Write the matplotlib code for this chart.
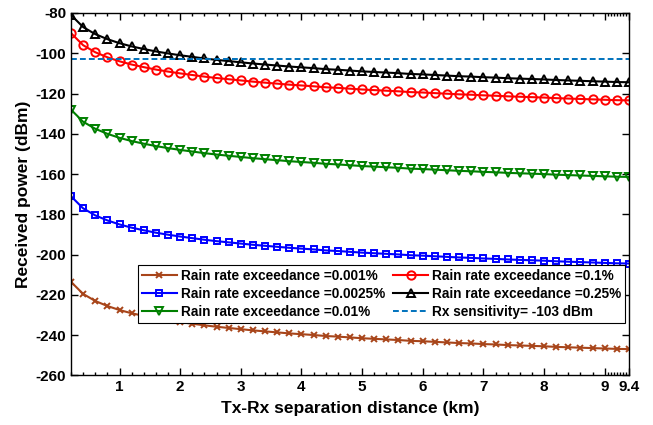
import matplotlib
matplotlib.use("Agg")
import matplotlib.pyplot as plt
from matplotlib.ticker import FixedLocator

plt.rcParams["font.family"] = ["Liberation Sans", "DejaVu Sans"]
plt.rcParams["font.weight"] = "bold"
plt.rcParams["axes.unicode_minus"] = False

# Tx-Rx distance (km)
dist = [0.2, 0.4, 0.6, 0.8, 1.0, 1.2, 1.4, 1.6, 1.8, 2.0, 2.2, 2.4, 2.6, 2.8, 3.0, 3.2,
        3.4, 3.6, 3.8, 4.0, 4.2, 4.4, 4.6, 4.8, 5.0, 5.2, 5.4, 5.6, 5.8, 6.0, 6.2, 6.4,
        6.6, 6.8, 7.0, 7.2, 7.4, 7.6, 7.8, 8.0, 8.2, 8.4, 8.6, 8.8, 9.0, 9.2, 9.4]

# received power (dBm) per rain rate exceedance
p_0001 = [-213.5, -219.5, -223.0, -225.5, -227.5, -229.1, -230.4, -231.6, -232.6, -233.5,
          -234.3, -235.1, -235.8, -236.4, -237.0, -237.6, -238.1, -238.6, -239.1, -239.5,
          -239.9, -240.4, -240.7, -241.1, -241.5, -241.8, -242.1, -242.4, -242.8, -243.0,
          -243.3, -243.6, -243.9, -244.1, -244.4, -244.6, -244.9, -245.1, -245.3, -245.5,
          -245.8, -246.0, -246.2, -246.4, -246.6, -246.8, -246.9]
p_00025 = [-171.0, -177.0, -180.5, -183.0, -185.0, -186.6, -187.9, -189.1, -190.1, -191.0,
           -191.8, -192.6, -193.3, -193.9, -194.5, -195.1, -195.6, -196.1, -196.6, -197.0,
           -197.4, -197.9, -198.2, -198.6, -199.0, -199.3, -199.6, -199.9, -200.3, -200.5,
           -200.8, -201.1, -201.4, -201.6, -201.9, -202.1, -202.4, -202.6, -202.8, -203.0,
           -203.3, -203.5, -203.7, -203.9, -204.1, -204.3, -204.4]
p_001 = [-128.0, -134.0, -137.5, -140.0, -142.0, -143.6, -144.9, -146.1, -147.1, -148.0,
         -148.8, -149.6, -150.3, -150.9, -151.5, -152.1, -152.6, -153.1, -153.6, -154.0,
         -154.4, -154.9, -155.2, -155.6, -156.0, -156.3, -156.6, -156.9, -157.3, -157.5,
         -157.8, -158.1, -158.4, -158.6, -158.9, -159.1, -159.4, -159.6, -159.8, -160.0,
         -160.3, -160.5, -160.7, -160.9, -161.1, -161.3, -161.4]
p_01 = [-90.0, -96.0, -99.5, -102.0, -104.0, -105.6, -106.9, -108.1, -109.1, -110.0,
        -110.8, -111.6, -112.3, -112.9, -113.5, -114.1, -114.6, -115.1, -115.6, -116.0,
        -116.4, -116.9, -117.2, -117.6, -118.0, -118.3, -118.6, -118.9, -119.3, -119.5,
        -119.8, -120.1, -120.4, -120.6, -120.9, -121.1, -121.4, -121.6, -121.8, -122.0,
        -122.3, -122.5, -122.7, -122.9, -123.1, -123.3, -123.4]
p_025 = [-81.0, -87.0, -90.5, -93.0, -95.0, -96.6, -97.9, -99.1, -100.1, -101.0,
         -101.8, -102.6, -103.3, -103.9, -104.5, -105.1, -105.6, -106.1, -106.6, -107.0,
         -107.4, -107.9, -108.2, -108.6, -109.0, -109.3, -109.6, -109.9, -110.3, -110.5,
         -110.8, -111.1, -111.4, -111.6, -111.9, -112.1, -112.4, -112.6, -112.8, -113.0,
         -113.3, -113.5, -113.7, -113.9, -114.1, -114.3, -114.4]
rx_sens = -103

x_major = [1, 2, 3, 4, 5, 6, 7, 8, 9, 9.4]
x_labels = ["1", "2", "3", "4", "5", "6", "7", "8", "9", "9.4"]
x_minor = [0.2, 0.4, 0.6, 0.8, 1.2, 1.4, 1.6, 1.8, 2.2, 2.4, 2.6, 2.8, 3.2, 3.4, 3.6, 3.8,
           4.2, 4.4, 4.6, 4.8, 5.2, 5.4, 5.6, 5.8, 6.2, 6.4, 6.6, 6.8, 7.2, 7.4, 7.6, 7.8,
           8.2, 8.4, 8.6, 8.8, 9.05, 9.1, 9.15, 9.2, 9.25, 9.3, 9.35]
y_ticks = [-260, -240, -220, -200, -180, -160, -140, -120, -100, -80]

fig = plt.figure(figsize=(6.53, 4.25), dpi=100)
ax = fig.add_axes([0.1087, 0.1165, 0.8545, 0.853])

kw = dict(lw=1.5, mew=1.4, mfc="none")
ax.plot(dist, p_0001, color="#A8451A", marker="x", ms=4, label="Rain rate exceedance =0.001%", **kw)
ax.plot(dist, p_00025, color="#0000FF", marker="s", ms=4.5, label="Rain rate exceedance =0.0025%", **kw)
ax.plot(dist, p_001, color="#008000", marker="v", ms=6, label="Rain rate exceedance =0.01%", **kw)
ax.plot(dist, p_01, color="#FF0000", marker="o", ms=6, label="Rain rate exceedance =0.1%", **kw)
ax.plot(dist, p_025, color="black", marker="^", ms=6, label="Rain rate exceedance =0.25%", **kw)
ax.axhline(rx_sens, color="#0072BD", ls=(0, (3, 1.6)), lw=1.4,
           label=f"Rx sensitivity= {rx_sens} dBm")

ax.set_xlim(0.2, 9.4)
ax.set_ylim(-260, -80)
ax.set_xticks(x_major)
ax.set_xticklabels(x_labels)
ax.xaxis.set_minor_locator(FixedLocator(x_minor))
ax.set_yticks(y_ticks)
ax.tick_params(which="both", direction="in", top=True, right=True, labelsize=11)
ax.tick_params(which="major", length=5, width=1)
ax.tick_params(which="minor", length=2.5, width=1)
for lbl in ax.get_xticklabels() + ax.get_yticklabels():
    lbl.set_fontweight("bold")
for s in ax.spines.values():
    s.set_linewidth(1)

ax.set_xlabel("Tx-Rx separation distance (km)", fontsize=12.5, fontweight="bold", labelpad=5)
ax.set_ylabel("Received power (dBm)", fontsize=12.5, fontweight="bold", labelpad=3)

leg = ax.legend(ncol=2, loc="lower right", bbox_to_anchor=(0.993, 0.145),
                prop={"size": 9.8, "weight": "bold"},
                frameon=True, fancybox=False, framealpha=1, edgecolor="black",
                handlelength=2.6, handletextpad=0.25, columnspacing=0.6,
                labelspacing=0.3, borderpad=0.3, borderaxespad=0)
leg.get_frame().set_linewidth(0.8)

fig.savefig("out.png", dpi=100)
